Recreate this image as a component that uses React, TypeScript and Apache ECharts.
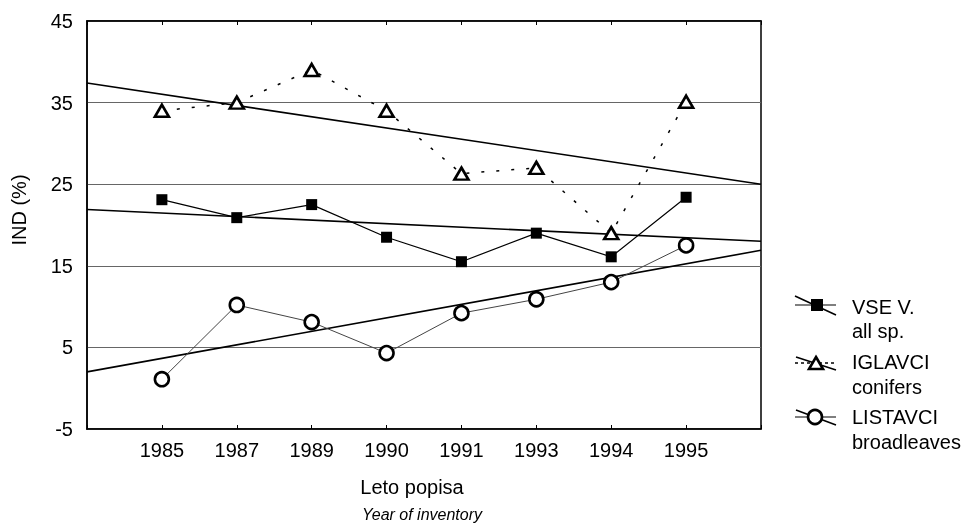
import React, { useEffect, useRef } from 'react';
import * as echarts from 'echarts';

const years = ['1985', '1987', '1989', '1990', '1991', '1993', '1994', '1995'];
const allSp = [23.1, 20.9, 22.5, 18.5, 15.5, 19.0, 16.1, 23.4];
const conifers = [34.0, 35.0, 39.0, 34.0, 26.3, 27.0, 19.0, 35.1];
const broadleaves = [1.1, 10.2, 8.1, 4.3, 9.2, 10.9, 13.0, 17.5];
// trend-line values at the left (x = 0) and right (x = 9) edges of the plot
const trendAll = [21.9, 18.0];
const trendCon = [37.4, 25.0];
const trendBroad = [2.0, 16.9];
const yTicks = [-5, 5, 15, 25, 35, 45];

const FONT = '"Liberation Sans", Arial, sans-serif';

export default function App() {
  const ref = useRef<HTMLDivElement>(null);
  useEffect(() => {
    const chart = echarts.init(ref.current!, null, { renderer: 'svg' });
    const pts = (arr: number[]) => arr.map((v, i) => [i + 1, v]);
    const edge = (arr: number[]) => [[0, arr[0]], [9, arr[1]]];
    const trendStyle = { color: '#000', width: 1.6 };
    const legendText = (x: number, y: number, t: string) => ({
      type: 'text', x, y,
      style: { text: t, fill: '#000', font: `20px ${FONT}`, textVerticalAlign: 'middle' },
    });
    const option: any = {
      animation: false,
      grid: { left: 87, right: 213, top: 21, bottom: 94, show: true, borderColor: '#000', borderWidth: 1.5 },
      xAxis: [
        {
          type: 'value', min: 0, max: 9, interval: 1, position: 'bottom',
          axisLine: { show: true, onZero: false, lineStyle: { color: '#000', width: 1.5 } },
          axisTick: { show: true, inside: true, length: 4, lineStyle: { color: '#000' } },
          splitLine: { show: false },
          axisLabel: {
            color: '#000', fontSize: 20, fontFamily: FONT, margin: 11,
            formatter: (v: number) => (v >= 1 && v <= 8 ? years[v - 1] : ''),
          },
        },
        {
          type: 'value', min: 0, max: 9, interval: 1, position: 'top',
          axisLine: { show: true, onZero: false, lineStyle: { color: '#000', width: 1.5 } },
          axisTick: { show: true, inside: true, length: 4, lineStyle: { color: '#000' } },
          splitLine: { show: false },
          axisLabel: { show: false },
        },
      ],
      yAxis: {
        type: 'value', min: yTicks[0], max: yTicks[yTicks.length - 1], interval: 10,
        axisLine: { show: true, onZero: false, lineStyle: { color: '#000', width: 1.5 } },
        axisTick: { show: false },
        splitLine: { show: true, lineStyle: { color: '#666', width: 1 } },
        axisLabel: { color: '#000', fontSize: 20, fontFamily: FONT, margin: 14 },
      },
      series: [
        { type: 'line', data: edge(trendAll), symbol: 'none', lineStyle: trendStyle, z: 2 },
        { type: 'line', data: edge(trendCon), symbol: 'none', lineStyle: trendStyle, z: 2 },
        { type: 'line', data: edge(trendBroad), symbol: 'none', lineStyle: trendStyle, z: 2 },
        {
          name: 'VSE V.', type: 'line', data: pts(allSp), symbol: 'rect', symbolSize: 11,
          lineStyle: { color: '#000', width: 1.2 }, itemStyle: { color: '#000' }, z: 4,
        },
        {
          name: 'IGLAVCI', type: 'line', data: pts(conifers), symbol: 'triangle', symbolSize: [14, 12],
          lineStyle: { color: '#000', width: 1.5, type: [3, 12] },
          itemStyle: { color: '#fff', borderColor: '#000', borderWidth: 2.6 }, z: 4,
        },
        {
          name: 'LISTAVCI', type: 'line', data: pts(broadleaves), symbol: 'circle', symbolSize: 14,
          lineStyle: { color: '#444', width: 1 },
          itemStyle: { color: '#fff', borderColor: '#000', borderWidth: 2.6 }, z: 4,
        },
      ],
      graphic: [
        {
          type: 'text', x: 19, y: 210, rotation: Math.PI / 2,
          style: { text: 'IND (%)', fill: '#000', font: `20px ${FONT}`, textAlign: 'center', textVerticalAlign: 'middle' },
        },
        {
          type: 'text', x: 412, y: 487,
          style: { text: 'Leto popisa', fill: '#000', font: `20px ${FONT}`, textAlign: 'center', textVerticalAlign: 'middle' },
        },
        {
          type: 'text', x: 422, y: 514,
          style: { text: 'Year of inventory', fill: '#000', font: `italic 16px ${FONT}`, textAlign: 'center', textVerticalAlign: 'middle' },
        },
        // legend entry 1
        { type: 'line', shape: { x1: 795, y1: 305, x2: 836, y2: 305 }, style: { stroke: '#000', lineWidth: 1.2 } },
        { type: 'line', shape: { x1: 795, y1: 296, x2: 836, y2: 315 }, style: { stroke: '#000', lineWidth: 1.6 } },
        { type: 'rect', shape: { x: 811, y: 299, width: 12, height: 12 }, style: { fill: '#000' } },
        legendText(852, 307, 'VSE V.'),
        legendText(852, 331, 'all sp.'),
        // legend entry 2
        { type: 'line', shape: { x1: 795, y1: 363, x2: 836, y2: 363 }, style: { stroke: '#000', lineWidth: 1.5, lineDash: [3, 3] } },
        { type: 'line', shape: { x1: 796, y1: 357, x2: 836, y2: 370 }, style: { stroke: '#000', lineWidth: 1.6 } },
        { type: 'polygon', shape: { points: [[816, 357], [823, 369], [809, 369]] }, style: { fill: '#fff', stroke: '#000', lineWidth: 2.6 } },
        legendText(852, 362, 'IGLAVCI'),
        legendText(852, 387, 'conifers'),
        // legend entry 3
        { type: 'line', shape: { x1: 795, y1: 417, x2: 836, y2: 417 }, style: { stroke: '#000', lineWidth: 1.2 } },
        { type: 'line', shape: { x1: 796, y1: 410, x2: 836, y2: 425 }, style: { stroke: '#000', lineWidth: 1.6 } },
        { type: 'circle', shape: { cx: 815, cy: 417, r: 7 }, style: { fill: '#fff', stroke: '#000', lineWidth: 2.6 } },
        legendText(852, 417, 'LISTAVCI'),
        legendText(852, 442, 'broadleaves'),
      ],
    };
    chart.setOption(option);
    return () => chart.dispose();
  }, []);
  return <div ref={ref} style={{ position: 'fixed', left: 0, top: 0, width: 974, height: 523 }} />;
}
